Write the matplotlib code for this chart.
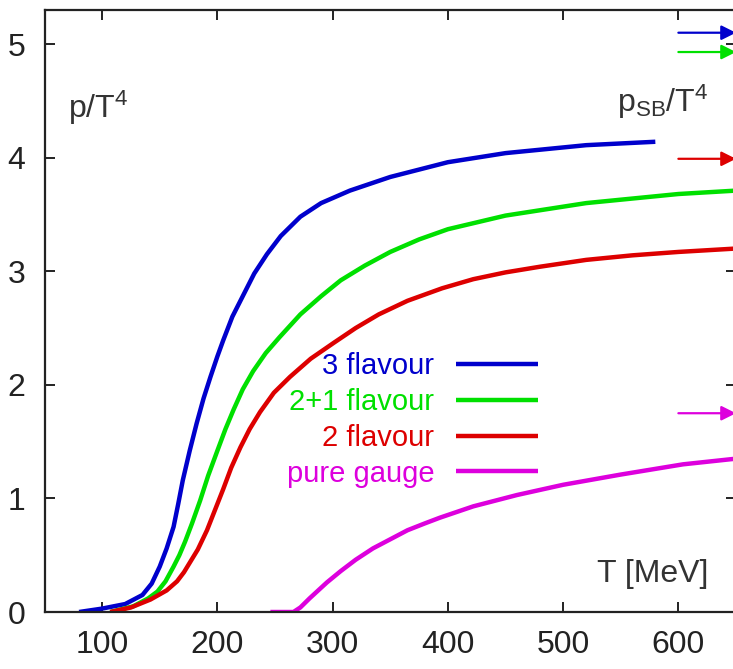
import matplotlib
matplotlib.use("Agg")
import matplotlib.pyplot as plt
from matplotlib.font_manager import fontManager

names = {f.name for f in fontManager.ttflist}
FONT = "Liberation Sans Narrow" if "Liberation Sans Narrow" in names else "Liberation Sans"
plt.rcParams["font.family"] = [FONT, "DejaVu Sans"]
plt.rcParams["mathtext.fontset"] = "custom"
plt.rcParams["mathtext.rm"] = FONT
plt.rcParams["mathtext.it"] = FONT

# ---- data ----
T_3f = [80, 100, 120, 135, 143, 150, 156, 162, 166, 170, 176, 182, 188, 194, 200, 205,
        213, 222, 232, 243, 255, 272, 290, 315, 350, 400, 450, 520, 580]
p_3f = [0.0, 0.03, 0.07, 0.15, 0.25, 0.40, 0.56, 0.75, 0.95, 1.16, 1.42, 1.66, 1.88, 2.07,
        2.25, 2.39, 2.60, 2.78, 2.98, 3.15, 3.31, 3.48, 3.60, 3.71, 3.83, 3.96, 4.04, 4.11, 4.14]

T_21 = [107, 127, 140, 148, 155, 162, 167, 172, 178, 185, 192, 200, 207, 214, 222, 231,
        242, 254, 272, 290, 307, 328, 350, 375, 400, 450, 520, 600, 650]
p_21 = [0.0, 0.05, 0.12, 0.18, 0.27, 0.40, 0.50, 0.62, 0.78, 0.98, 1.20, 1.42, 1.61, 1.78,
        1.96, 2.12, 2.28, 2.42, 2.62, 2.78, 2.92, 3.05, 3.17, 3.28, 3.37, 3.49, 3.60, 3.68, 3.71]

T_2f = [107, 125, 142, 156, 165, 171, 177, 183, 191, 198, 205, 212, 220, 228, 237, 249,
        263, 281, 301, 320, 340, 365, 395, 422, 450, 480, 520, 560, 600, 650]
p_2f = [0.0, 0.04, 0.11, 0.19, 0.27, 0.35, 0.45, 0.55, 0.72, 0.90, 1.08, 1.27, 1.45, 1.61,
        1.76, 1.93, 2.07, 2.23, 2.37, 2.50, 2.62, 2.74, 2.85, 2.93, 2.99, 3.04, 3.10, 3.14,
        3.17, 3.20]

T_pg = [246, 266, 272, 280, 295, 307, 320, 335, 350, 365, 380, 393, 422, 460, 500, 550, 604, 650]
p_pg = [0.0, 0.0, 0.04, 0.12, 0.26, 0.36, 0.46, 0.56, 0.64, 0.72, 0.78, 0.83, 0.93, 1.03,
        1.12, 1.21, 1.30, 1.35]

labels = ["3 flavour", "2+1 flavour", "2 flavour", "pure gauge"]
colors = ["#0000cc", "#00e000", "#dd0000", "#dd00dd"]
sb_values = [5.10, 4.93, 3.99, 1.75]
sb_T0, sb_T1 = 600, 650

x_ticks = [100, 200, 300, 400, 500, 600]
y_ticks = [0, 1, 2, 3, 4, 5]

# ---- figure ----
W, H = 733, 669
fig = plt.figure(figsize=(W / 100, H / 100), dpi=100)
ax = fig.add_axes([44.5 / W, (H - 612) / H, 691.5 / W, 602 / H])

series = [(T_3f, p_3f), (T_21, p_21), (T_2f, p_2f), (T_pg, p_pg)]
handles = []
for (t, p), c, lab in zip(series, colors, labels):
    h, = ax.plot(t, p, color=c, lw=3.2, label=lab, solid_capstyle="butt",
                 solid_joinstyle="round")
    handles.append(h)

for v, c in zip(sb_values, colors):
    ax.annotate("", xy=(sb_T1, v), xytext=(sb_T0, v),
                arrowprops=dict(arrowstyle="-|>", color=c, lw=1.6,
                                mutation_scale=22, shrinkA=0, shrinkB=0),
                annotation_clip=False)

ax.set_xlim(50, 650)
ax.set_ylim(0, 5.3)
ax.set_xticks(x_ticks)
ax.set_yticks(y_ticks)
ax.tick_params(direction="in", length=7, width=1.4, top=True, right=True,
               labelsize=23, colors="#222222")
ax.tick_params(axis="x", pad=13)
ax.tick_params(axis="y", pad=14)
for s in ax.spines.values():
    s.set_linewidth(1.6)
    s.set_color("#222222")

ax.text(70.5, 4.35, r"$\mathrm{p/T}^{4}$", fontsize=23, color="#333333",
        ha="left", va="baseline")
ax.text(626, 4.40, r"$\mathrm{p}_{\mathrm{SB}}\mathrm{/T}^{4}$", fontsize=23,
        color="#333333", ha="right", va="baseline")
ax.text(626, 0.264, "T [MeV]", fontsize=23, color="#333333",
        ha="right", va="baseline")

leg = ax.legend(handles=handles, loc="upper right",
                bbox_to_anchor=((538 - 44.5) / 691.5, (612 - 352) / 602),
                frameon=False, markerfirst=False, labelcolor="linecolor",
                fontsize=21, handlelength=2.8, handletextpad=0.75,
                labelspacing=0.27, borderpad=0, borderaxespad=0)

fig.savefig("out.png", dpi=100)
